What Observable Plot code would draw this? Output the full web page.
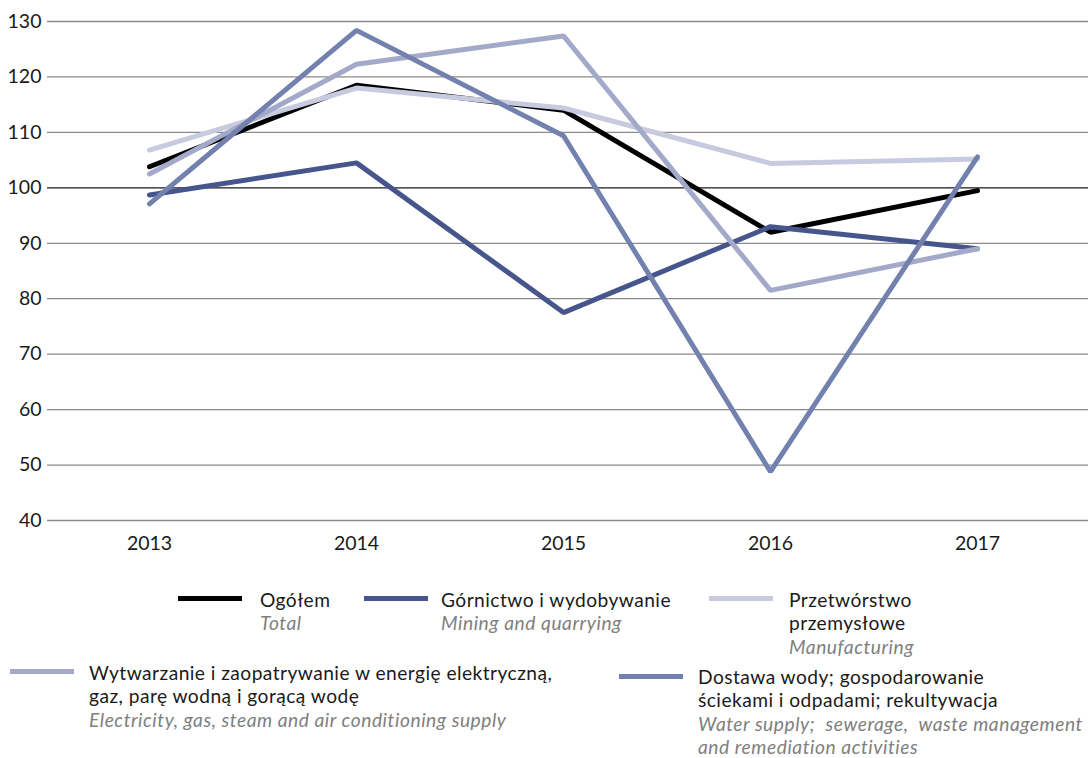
<!DOCTYPE html>
<html>
<head>
<meta charset="utf-8">
<script src="https://cdn.jsdelivr.net/npm/d3@7"></script>
<script src="https://cdn.jsdelivr.net/npm/@observablehq/plot@0.6"></script>
<style>
  body { margin: 0; background: #fff; font-family: Lato, sans-serif; }
  #wrap { position: relative; width: 1088px; height: 758px; }
  #legend { position: absolute; left: 0; top: 0; width: 1088px; height: 758px; pointer-events: none; }
  .item { position: absolute; font-size: 19.2px; line-height: 23.4px; color: #1a1a1a; white-space: nowrap; letter-spacing: 0.45px; }
  .item .en { font-style: italic; color: #808080; white-space: pre; letter-spacing: 0.55px; }
  .sw { position: absolute; height: 5px; width: 64px; }
</style>
</head>
<body>
<div id="wrap">
  <div id="chart"></div>
  <div id="legend"></div>
</div>
<script>
const years = ["2013", "2014", "2015", "2016", "2017"];
const seriesNames = [
  "Ogółem",
  "Górnictwo i wydobywanie",
  "Przetwórstwo przemysłowe",
  "Wytwarzanie i zaopatrywanie w energię elektryczną, gaz, parę wodną i gorącą wodę",
  "Dostawa wody; gospodarowanie ściekami i odpadami; rekultywacja"
];
const seriesColors = ["#000000", "#46558c", "#c8cbe0", "#a3a9c8", "#7281ae"];
const ogolem       = [103.8, 118.5, 114.0, 92.0, 99.5];
const gornictwo    = [98.7, 104.5, 77.5, 93.0, 89.0];
const przetworstwo = [106.8, 118.0, 114.4, 104.4, 105.2];
const wytwarzanie  = [102.5, 122.3, 127.4, 81.5, 89.0];
const dostawa      = [97.1, 128.4, 109.4, 48.8, 105.6];
const yTicks = [40, 50, 60, 70, 80, 90, 100, 110, 120, 130];

const seriesValues = [ogolem, gornictwo, przetworstwo, wytwarzanie, dostawa];
const data = [];
seriesNames.forEach((s, i) => {
  years.forEach((y, j) => data.push({series: s, year: y, value: seriesValues[i][j]}));
});

const chart = Plot.plot({
  width: 1088,
  height: 561,
  marginLeft: 47,
  marginRight: 0,
  marginTop: 21,
  marginBottom: 41,
  style: { fontFamily: "Lato, sans-serif", fontSize: "19.5px", color: "#1a1a1a", background: "#fff" },
  x: { type: "point", domain: years, range: [149, 977], padding: 0, label: null, tickSize: 0, tickPadding: 16 },
  y: { domain: [40, 130], ticks: yTicks, label: null, tickSize: 0, tickPadding: 6 },
  color: { domain: seriesNames, range: seriesColors },
  marks: [
    Plot.ruleY(yTicks.filter(d => d !== 100), { stroke: "#8a8a8a", strokeWidth: 1.3 }),
    Plot.ruleY([100], { stroke: "#1a1a1a", strokeWidth: 1.3 }),
    Plot.line(data, {
      x: "year", y: "value", z: "series", stroke: "series",
      strokeWidth: 5, strokeLinejoin: "miter", strokeLinecap: "round"
    })
  ]
});
document.getElementById("chart").appendChild(chart);

const legendItems = [
  { c: 0, sx: 178, sy: 596, tx: 260, ty: 588, pl: ["Ogółem"], en: ["Total"] },
  { c: 1, sx: 364, sy: 596, tx: 441, ty: 588, pl: ["Górnictwo i wydobywanie"], en: ["Mining and quarrying"] },
  { c: 2, sx: 709, sy: 596, tx: 789, ty: 588, pl: ["Przetwórstwo", "przemysłowe"], en: ["Manufacturing"] },
  { c: 3, sx: 10, sy: 669, tx: 89, ty: 661, pl: ["Wytwarzanie i zaopatrywanie w energię elektryczną,", "gaz, parę wodną i gorącą wodę"], en: ["Electricity, gas, steam and air conditioning supply"] },
  { c: 4, sx: 619, sy: 674, tx: 698, ty: 665, pl: ["Dostawa wody; gospodarowanie", "ściekami i odpadami; rekultywacja"], en: ["Water supply;  sewerage,  waste management", "and remediation activities"] }
];
const leg = document.getElementById("legend");
legendItems.forEach(it => {
  const sw = document.createElement("div");
  sw.className = "sw";
  sw.style.left = it.sx + "px";
  sw.style.top = it.sy + "px";
  sw.style.background = seriesColors[it.c];
  leg.appendChild(sw);
  const t = document.createElement("div");
  t.className = "item";
  t.style.left = it.tx + "px";
  t.style.top = it.ty + "px";
  t.innerHTML = it.pl.map(l => `<div>${l}</div>`).join("") +
    it.en.map(l => `<div class="en">${l}</div>`).join("");
  leg.appendChild(t);
});
</script>
</body>
</html>
